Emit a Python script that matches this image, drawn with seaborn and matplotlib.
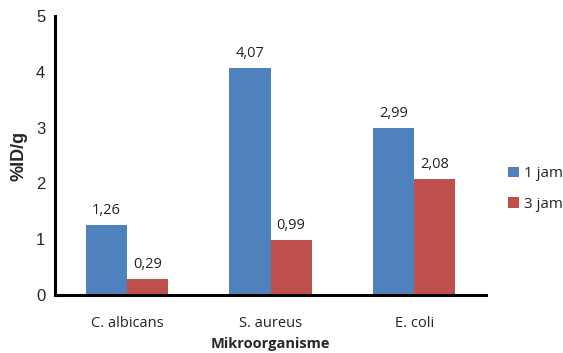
import matplotlib
matplotlib.use("Agg")
import matplotlib.pyplot as plt
import seaborn as sns
import pandas as pd
from matplotlib.ticker import FixedLocator

categories = ["C. albicans", "S. aureus", "E. coli"]
series_names = ["1 jam", "3 jam"]
values_1jam = [1.26, 4.07, 2.99]
values_3jam = [0.29, 0.99, 2.08]
y_ticks = [0, 1, 2, 3, 4, 5]
colors = ["#4F81BD", "#C0504D"]

df = pd.DataFrame({
    "Mikroorganisme": categories * 2,
    "value": values_1jam + values_3jam,
    "series": [series_names[0]] * 3 + [series_names[1]] * 3,
})

sns.set_style("white")
plt.rcParams["font.family"] = ["Liberation Sans", "DejaVu Sans"]

fig = plt.figure(figsize=(5.63, 3.53), dpi=100)
ax = fig.add_axes([55 / 563, 1 - 295 / 353, (486 - 55) / 563, (295 - 16) / 353])

sns.barplot(data=df, x="Mikroorganisme", y="value", hue="series",
            palette=colors, width=0.574, gap=0, saturation=1,
            edgecolor="none", ax=ax, legend=True)

for cont in ax.containers:
    labels = [f"{v:.2f}".replace(".", ",") for v in cont.datavalues]
    ax.bar_label(cont, labels=labels, padding=5, fontsize=10.5,
                 color="#222222", family="Open Sans")

ax.set_xlim(-0.5, 2.5)
ax.set_ylim(0, 5)
ax.set_yticks(y_ticks)
ax.set_yticklabels([str(t) for t in y_ticks], fontsize=12)
ax.xaxis.set_major_locator(FixedLocator([0, 1, 2]))
ax.set_xticklabels(categories, fontsize=10.5, family="Open Sans", color="#222222")
ax.xaxis.set_minor_locator(FixedLocator([-0.5, 0.5, 1.5, 2.5]))
ax.tick_params(axis="x", which="major", length=0, pad=15)
ax.tick_params(axis="x", which="minor", length=4, width=2, color="black", direction="out")
ax.tick_params(axis="y", length=4, width=2, color="black", direction="out", pad=3)

for side in ["top", "right"]:
    ax.spines[side].set_visible(False)
for side in ["left", "bottom"]:
    ax.spines[side].set_linewidth(2.2)
    ax.spines[side].set_color("black")

ax.set_xlabel("Mikroorganisme", fontsize=10.5, fontweight="bold", family="Open Sans")
ax.xaxis.set_label_coords(0.5, -(344 - 295) / (295 - 16))
ax.xaxis.label.set_va("center")
ax.set_ylabel("%ID/g", fontsize=13, fontweight="bold", labelpad=6)

leg = ax.legend(loc="center left", bbox_to_anchor=(1.02, 0.38), frameon=False,
                handlelength=0.7, handleheight=0.7,
                handletextpad=0.3, labelspacing=1.0, prop={"family": "Open Sans", "size": 11})

fig.savefig("out.png", dpi=100)
